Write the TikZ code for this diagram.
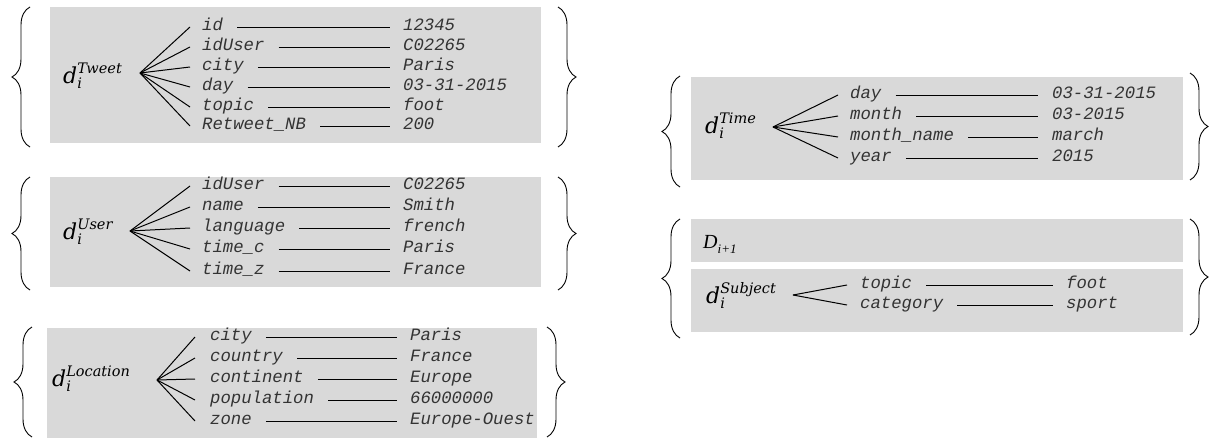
\documentclass[tikz,border=0pt]{standalone}
\usepackage{fontspec}
\usetikzlibrary{decorations.pathreplacing}
\newfontfamily\monofam{Liberation Mono}
\newfontfamily\seriffam{Liberation Serif}
\newfontfamily\labfam{DejaVu Serif}
\definecolor{boxgray}{RGB}{217,217,217}
\newcommand\dlab[1]{{\labfam\itshape\fontsize{22}{22}\selectfont d}\rlap{\raisebox{10pt}{\labfam\itshape\fontsize{14.5}{14.5}\selectfont #1}}\raisebox{-5pt}{\labfam\itshape\fontsize{14.5}{14.5}\selectfont i}}
\tikzset{
  graybox/.style={fill=boxgray, draw=none, inner sep=0pt, anchor=north west},
  keytext/.style={font=\monofam\itshape\fontsize{17.3}{17.3}\selectfont, text=black!80, inner sep=0pt, anchor=west, text height=10pt, text depth=3pt},
  link/.style={line width=1pt},
  fanline/.style={line width=1pt},
  labeltext/.style={anchor=base west, inner sep=0pt},
  bracel/.style={decorate, decoration={brace, amplitude=18pt}, line width=0.9pt},
}
\begin{document}
\begin{tikzpicture}[x=1pt,y=-1pt]
\useasboundingbox (0,0) rectangle (1219,439);

% ---------- Tweet ----------
\node[graybox, minimum width=491pt, minimum height=136pt] (tbox) at (50,7) {};
\draw[bracel] (30,147) -- (30,7);
\draw[bracel] (558,7) -- (558,147);
\node[labeltext] (tlab) at (63,83) {\dlab{Tweet}};
\coordinate (tapex) at (140,73);
\foreach \k/\v/\y [count=\i] in {id/12345/27, idUser/C02265/47, city/Paris/67, day/03-31-2015/87, topic/foot/107, Retweet\_NB/200/126} {
  \node[keytext] (tk\i) at (202,\y) {\k};
  \node[keytext] (tv\i) at (403,\y) {\v};
  \draw[link] ([xshift=14pt]tk\i.east) -- ([xshift=-13pt]tv\i.west);
  \draw[fanline] (tapex) -- ([xshift=-12pt]tk\i.west);
}

% ---------- User ----------
\node[graybox, minimum width=491pt, minimum height=110pt] (ubox) at (50,177) {};
\draw[bracel] (30,290) -- (30,177);
\draw[bracel] (558,177) -- (558,290);
\node[labeltext] (ulab) at (63,239) {\dlab{User}};
\coordinate (uapex) at (130,231);
\foreach \k/\v/\y [count=\i] in {idUser/C02265/186, name/Smith/207, language/french/228, time\_c/Paris/249, time\_z/France/271} {
  \node[keytext] (uk\i) at (202,\y) {\k};
  \node[keytext] (uv\i) at (403,\y) {\v};
  \draw[link] ([xshift=14pt]uk\i.east) -- ([xshift=-13pt]uv\i.west);
  \draw[fanline] (uapex) -- ([xshift=-12pt]uk\i.west);
}

% ---------- Location ----------
\node[graybox, minimum width=490pt, minimum height=110pt] (lbox) at (47,328) {};
\draw[bracel] (32,437) -- (32,327);
\draw[bracel] (547,327) -- (547,437);
\node[labeltext] (llab) at (52,386) {\dlab{Location}};
\coordinate (lapex) at (157,380);
\foreach \k/\v/\y [count=\i] in {city/Paris/337, country/France/358, continent/Europe/379, population/66000000/400, zone/Europe-Ouest/421} {
  \node[keytext] (lk\i) at (210,\y) {\k};
  \node[keytext] (lv\i) at (410,\y) {\v};
  \draw[link] ([xshift=14pt]lk\i.east) -- ([xshift=-13pt]lv\i.west);
  \draw[fanline] (lapex) -- ([xshift=-15pt]lk\i.west);
}

% ---------- Time ----------
\node[graybox, minimum width=492pt, minimum height=103pt] (mbox) at (691,77) {};
\draw[bracel] (680,187) -- (680,76);
\draw[bracel] (1190,73) -- (1190,180);
\node[labeltext] (mlab) at (705,133) {\dlab{Time}};
\coordinate (mapex) at (773,127);
\foreach \k/\v/\y [count=\i] in {day/03-31-2015/95, month/03-2015/116, month\_name/march/137, year/2015/158} {
  \node[keytext] (mk\i) at (850,\y) {\k};
  \node[keytext] (mv\i) at (1052,\y) {\v};
  \draw[link] ([xshift=14pt]mk\i.east) -- ([xshift=-14pt]mv\i.west);
  \draw[fanline] (mapex) -- ([xshift=-12pt]mk\i.west);
}

% ---------- Subject ----------
\node[graybox, minimum width=492pt, minimum height=43pt] (dbox) at (691,219) {};
\node[graybox, minimum width=492pt, minimum height=63pt] (sbox) at (691,269) {};
\draw[bracel] (680,338) -- (680,219);
\draw[bracel] (1190,219) -- (1190,335);
\node[labeltext] (dlabel) at (703,248) {{\seriffam\itshape\fontsize{20}{20}\selectfont D}\raisebox{-5pt}{\seriffam\itshape\fontsize{13}{13}\selectfont i+1}};
\node[labeltext] (slab) at (706,303) {\dlab{Subject}};
\coordinate (sapex) at (793,295);
\foreach \k/\v/\y [count=\i] in {topic/foot/285, category/sport/305} {
  \node[keytext] (sk\i) at (860,\y) {\k};
  \node[keytext] (sv\i) at (1066,\y) {\v};
  \draw[link] ([xshift=14pt]sk\i.east) -- ([xshift=-13pt]sv\i.west);
  \draw[fanline] (sapex) -- ([xshift=-13pt]sk\i.west);
}
\end{tikzpicture}
\end{document}
